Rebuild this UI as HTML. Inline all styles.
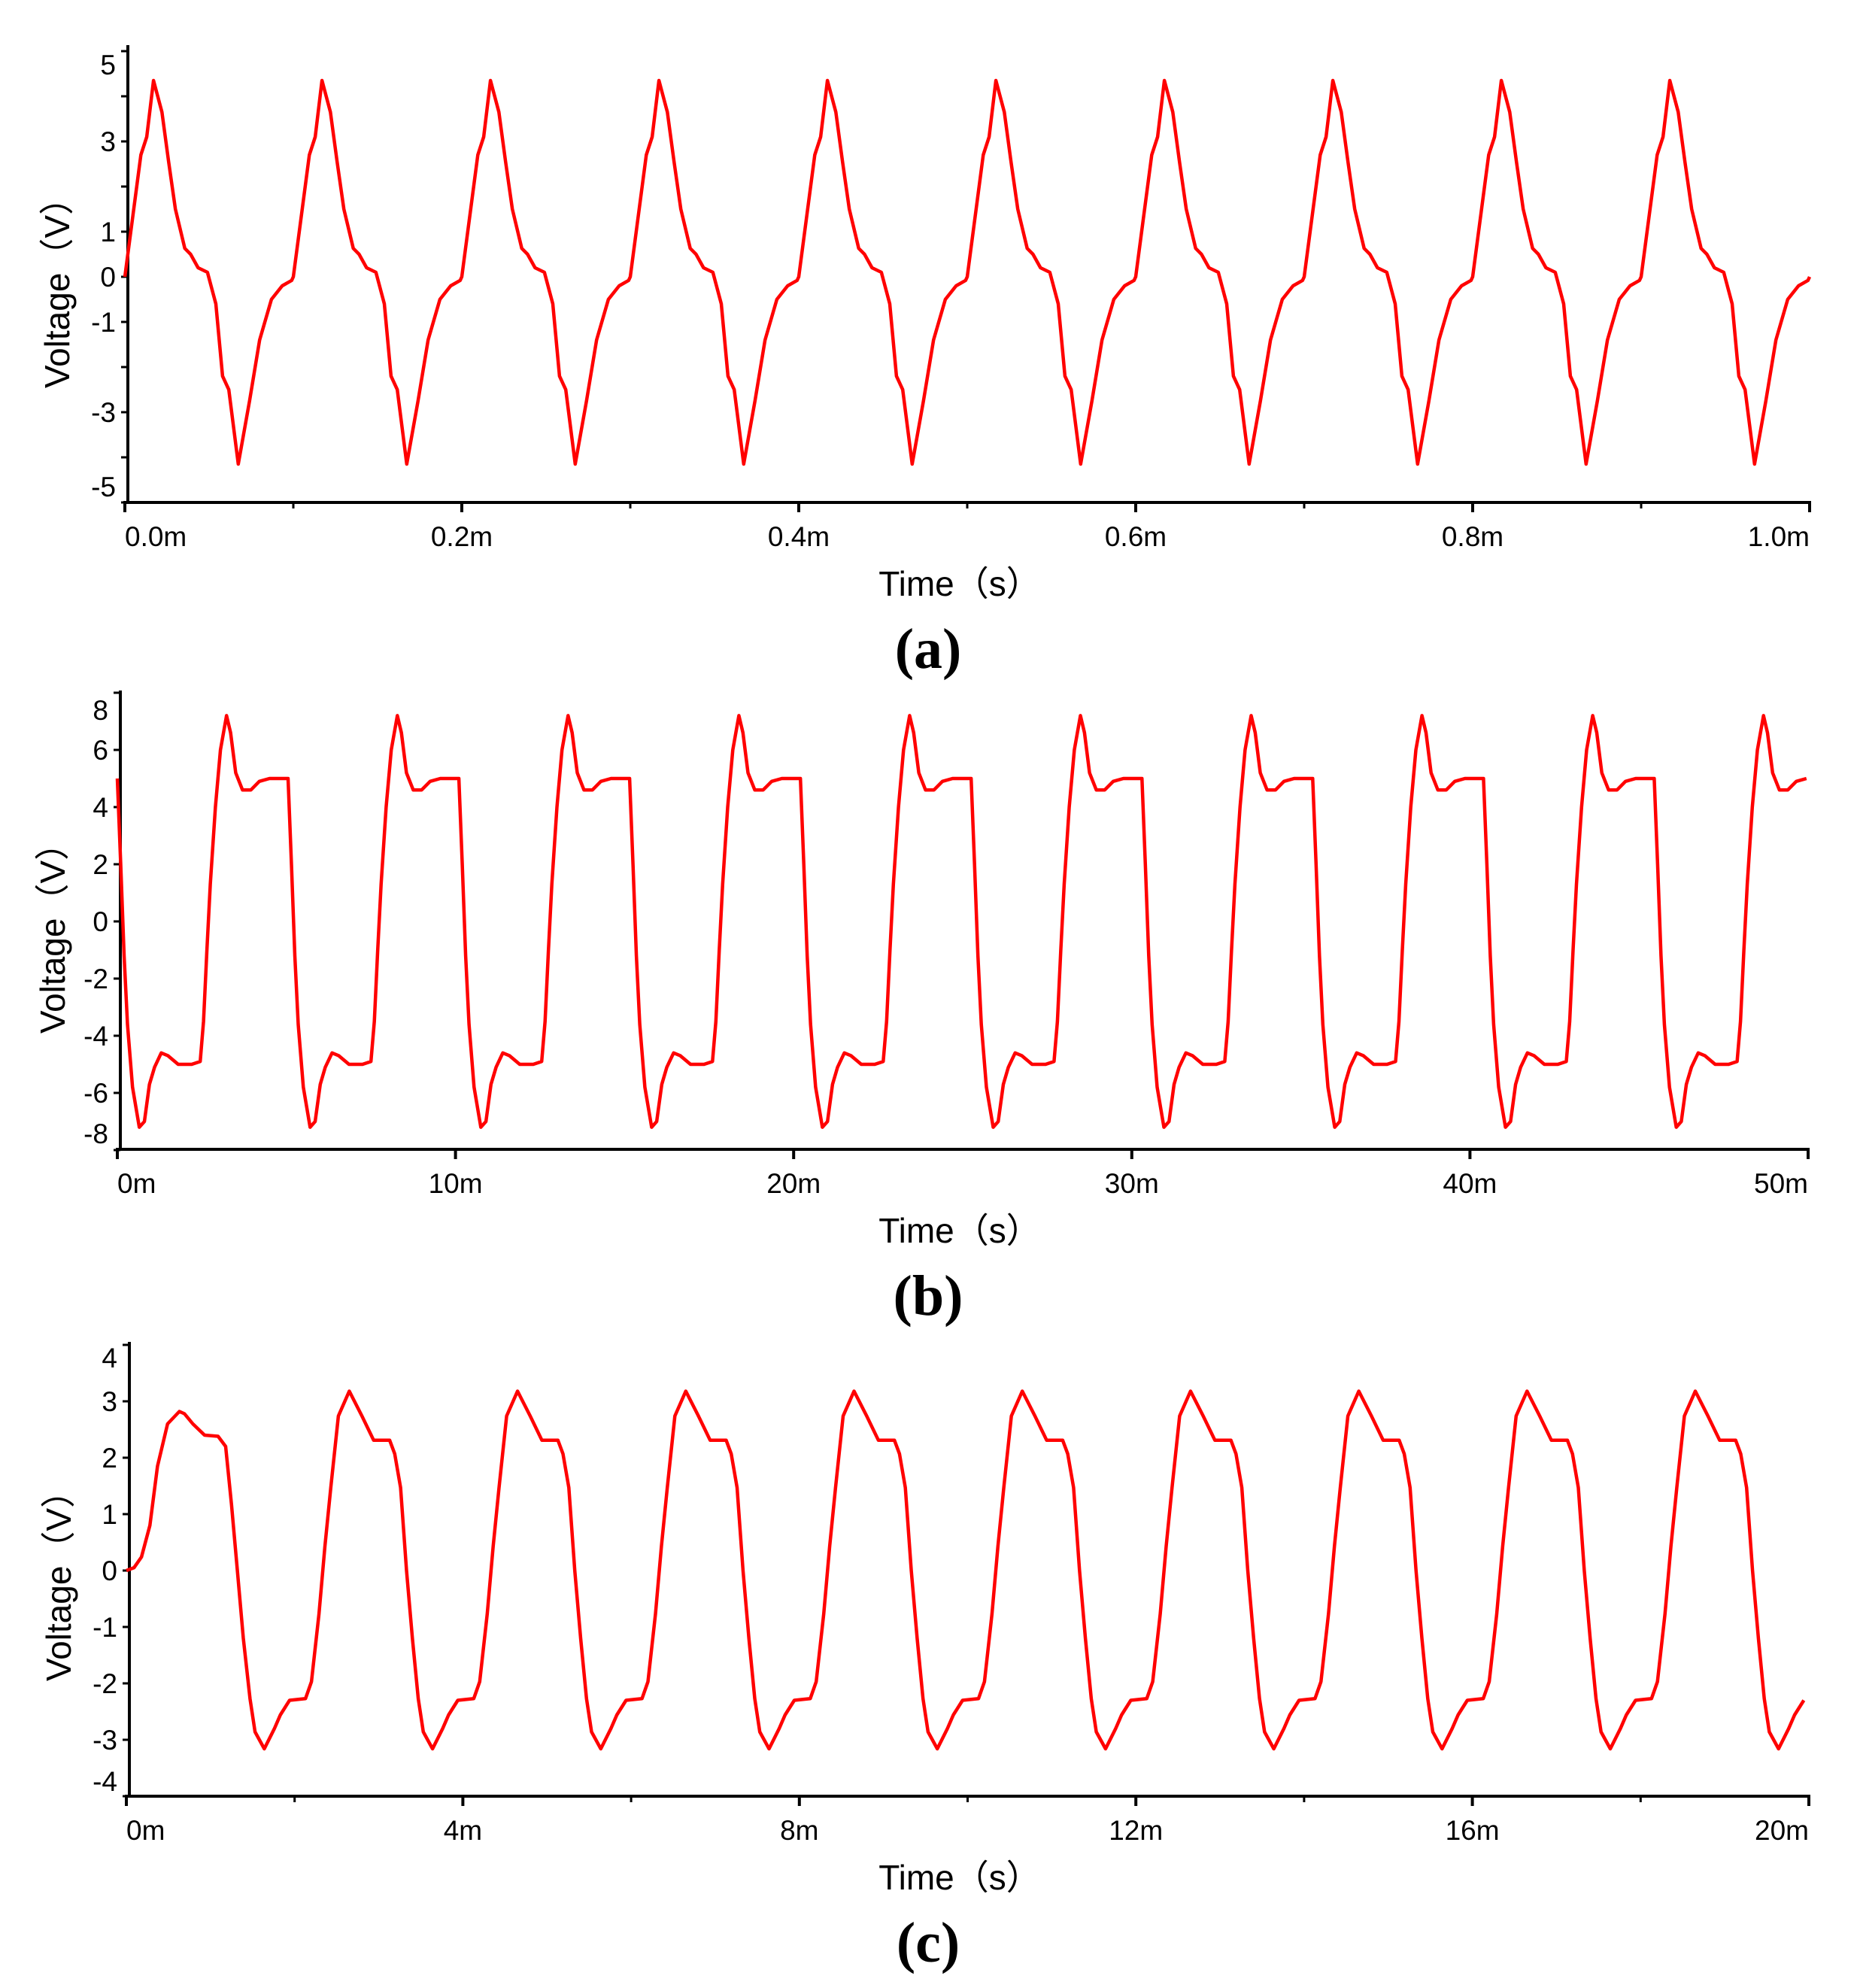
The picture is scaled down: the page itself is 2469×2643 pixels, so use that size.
<!DOCTYPE html>
<html><head><meta charset="utf-8"><style>
html,body{margin:0;padding:0;background:#fff}
svg{display:block}
text{font-family:"Liberation Sans","Noto Sans CJK SC",sans-serif;fill:#000}
</style></head><body>
<svg id="fig" width="2469" height="2643" viewBox="0 0 2469 2643" xmlns="http://www.w3.org/2000/svg"></svg>
<script>
// ---- Panel (a) data: one period, phase fraction & voltage ----
const aPhase = [0,0.095,0.13,0.17,0.22,0.26,0.30,0.356,0.39,0.435,0.49,0.54,0.58,0.617,0.673,0.74,0.80,0.87,0.934,0.99];
const aVolt  = [0,2.7,3.1,4.35,3.65,2.55,1.5,0.63,0.5,0.2,0.1,-0.6,-2.2,-2.5,-4.15,-2.75,-1.4,-0.5,-0.2,-0.08];
const aPeriod = 0.1;
const aYTicks = [5,4,3,2,1,0,-1,-2,-3,-4,-5];
const aYLabels = ["5","3","1","0","-1","-3","-5"];
const aXLabels = ["0.0m","0.2m","0.4m","0.6m","0.8m","1.0m"];
// ---- Panel (b) data ----
const bTime = [0,0.1,0.2,0.3,0.45,0.65,0.8,0.95,1.1,1.3,1.5,1.8,2.2,2.45,2.55,2.65,2.75,2.9,3.05,3.23,3.35,3.5,3.7,3.95,4.2,4.5,4.9];
const bVolt = [5.0,2.0,-1.2,-3.6,-5.8,-7.2,-7.0,-5.7,-5.1,-4.6,-4.7,-5.0,-5.0,-4.9,-3.5,-1.0,1.3,4.0,6.0,7.2,6.6,5.2,4.6,4.6,4.9,5.0,5.0];
const bPeriod = 5.05;
const bYLabels = ["8","6","4","2","0","-2","-4","-6","-8"];
const bXLabels = ["0m","10m","20m","30m","40m","50m"];
// ---- Panel (c) data: start-up transient then steady cycle ----
const cTransT = [0,0.09,0.18,0.28,0.37,0.49,0.63,0.69,0.79,0.93,1.09,1.18,1.25,1.32,1.39,1.47,1.53,1.64,1.76,1.83,1.94];
const cTransV = [0,0.05,0.24,0.8,1.85,2.6,2.82,2.78,2.6,2.4,2.38,2.2,1.17,0,-1.2,-2.27,-2.86,-3.16,-2.8,-2.56,-2.3];
const cStart = 2.13;
const cCycT = [0,0.07,0.16,0.23,0.3,0.39,0.52,0.67,0.81,1.0,1.06,1.13,1.2,1.27,1.34,1.4,1.51,1.63,1.7,1.81];
const cCycV = [-2.27,-1.97,-0.77,0.43,1.47,2.74,3.18,2.74,2.31,2.31,2.07,1.47,0,-1.2,-2.27,-2.86,-3.16,-2.8,-2.56,-2.3];
const cPeriod = 2.0;
const cYLabels = ["4","3","2","1","0","-1","-2","-3","-4"];
const cXLabels = ["0m","4m","8m","12m","16m","20m"];

const NS = "http://www.w3.org/2000/svg";
const svg = document.getElementById("fig");
function mk(tag, attrs, parent){ const e=document.createElementNS(NS,tag); for(const k in attrs) e.setAttribute(k,attrs[k]); (parent||svg).appendChild(e); return e; }

function panel(cfg){
  const g = mk("g",{});
  
  
  const xs = t => cfg.x0 + (t - cfg.tMin)/(cfg.tMax - cfg.tMin)*(cfg.x1 - cfg.x0);
  const ys = v => cfg.yZero - v*cfg.kV;
  const axX = cfg.x0 + 4;
  const ya = mk("line",{x1:axX,y1:cfg.yTop,x2:axX,y2:cfg.yAxis+2,stroke:"#000","stroke-width":4},g);
  
  
  const xa = mk("line",{x1:axX-6,y1:cfg.yAxis,x2:cfg.x1+2,y2:cfg.yAxis,stroke:"#000","stroke-width":4},g);
  
  
  cfg.yTickVals.forEach(v=>{
    const t = mk("line",{x1:axX-9,y1:ys(v),x2:axX,y2:ys(v),stroke:"#000","stroke-width":3},g);
    
    
  });
  cfg.yLabels.forEach((s)=>{
    const v = parseFloat(s);
    let y = ys(v);
    if (v === cfg.vMax) y += cfg.topNudge;
    if (v === -cfg.vMax) y -= cfg.botNudge;
    const t = mk("text",{x:axX-16,y:y+13,"text-anchor":"end","font-size":37},g);
    t.textContent = s;
    
    
  });
  cfg.xLabels.forEach((s,i)=>{
    const tv = cfg.tMin + i*(cfg.tMax-cfg.tMin)/(cfg.xLabels.length-1);
    const x = xs(tv);
    const tk = mk("line",{x1:x,y1:cfg.yAxis,x2:x,y2:cfg.yAxis+13,stroke:"#000","stroke-width":4},g);
    
    
    const anchor = i===0 ? "start" : (i===cfg.xLabels.length-1 ? "end" : "middle");
    const tx = mk("text",{x:x,y:cfg.yAxis+58,"text-anchor":anchor,"font-size":37},g);
    tx.textContent = s;
    
    
  });
  if (cfg.minor){
    const n = cfg.xLabels.length-1;
    for(let i=0;i<n;i++){
      const tv = cfg.tMin + (i+0.5)*(cfg.tMax-cfg.tMin)/n;
      const x = xs(tv);
      const tk = mk("line",{x1:x,y1:cfg.yAxis,x2:x,y2:cfg.yAxis+8,stroke:"#000","stroke-width":3},g);
      
      
    }
  }
  const pts = cfg.points.filter(p=>p[0]>=cfg.tMin && p[0]<=cfg.tMax).map(p=>xs(p[0]).toFixed(1)+","+ys(p[1]).toFixed(1)).join(" ");
  const pl = mk("polyline",{points:pts,fill:"none",stroke:"#ff0000","stroke-width":4.5,"stroke-linejoin":"round"},g);
  
  
  const yt = mk("text",{x:0,y:0,"font-size":46,"text-anchor":"middle",transform:`translate(${cfg.yTitleX},${cfg.yTitleY}) rotate(-90)`},g);
  yt.textContent = "Voltage（V）";
  
  
  const xt = mk("text",{x:1276,y:cfg.yAxis+124,"font-size":46,"text-anchor":"middle"},g);
  xt.textContent = "Time（s）";
  
  
  const cp = mk("text",{x:1234,y:cfg.yAxis+220,"font-size":76,"text-anchor":"middle","font-weight":"bold",style:"font-family:'Liberation Serif',serif"},g);
  cp.textContent = cfg.caption;
  
  
}

const aPts = [];
for(let k=0;k<=10;k++) aPhase.forEach((p,i)=>aPts.push([k*aPeriod + p*aPeriod, aVolt[i]]));
const bPts = [];
for(let k=0;k<=10;k++) bTime.forEach((t,i)=>bPts.push([k*bPeriod + t, bVolt[i]]));
const cPts = [];
cTransT.forEach((t,i)=>cPts.push([t,cTransV[i]]));
for(let k=0;k<10;k++) cCycT.forEach((t,i)=>cPts.push([cStart + k*cPeriod + t, cCycV[i]]));

panel({name:"panel-a",x0:166,x1:2406,tMin:0,tMax:1.0,yZero:368,kV:60,yTop:60,yAxis:668,vMax:5,topNudge:18,botNudge:21,
  yTickVals:aYTicks,yLabels:aYLabels,xLabels:aXLabels,minor:true,points:aPts,yTitleX:92,yTitleY:378,caption:"(a)"});
panel({name:"panel-b",x0:156,x1:2404,tMin:0,tMax:50,yZero:1225,kV:38,yTop:918,yAxis:1528,vMax:8,topNudge:23,botNudge:22,
  yTickVals:[8,6,4,2,0,-2,-4,-6,-8],yLabels:bYLabels,xLabels:bXLabels,minor:false,points:bPts,yTitleX:86,yTitleY:1236,caption:"(b)"});
panel({name:"panel-c",x0:168,x1:2405,tMin:0,tMax:20,yZero:2088,kV:75,yTop:1784,yAxis:2388,vMax:4,topNudge:17,botNudge:20,
  yTickVals:[4,3,2,1,0,-1,-2,-3,-4],yLabels:cYLabels,xLabels:cXLabels,minor:true,points:cPts,yTitleX:94,yTitleY:2097,caption:"(c)"});
</script>
</body></html>
